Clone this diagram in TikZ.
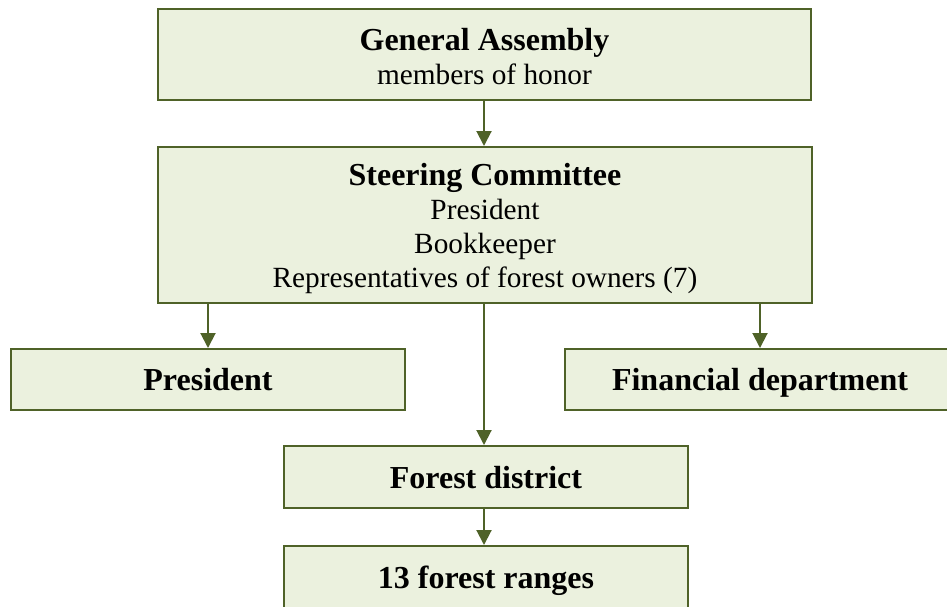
\documentclass[tikz,border=0pt]{standalone}
\usepackage{fontspec}
\setmainfont{Liberation Serif}
\usetikzlibrary{arrows.meta}
\definecolor{boxline}{HTML}{4F6228}
\definecolor{boxfill}{HTML}{EBF1DE}
\tikzset{
  orgbox/.style={draw=boxline, fill=boxfill, line width=2pt, inner sep=0pt,
    align=center, font=\fontsize{29.3}{34}\selectfont},
  onebox/.style={orgbox, text height=22pt, text depth=0pt},
  arr/.style={draw=boxline, line width=2pt,
    -{Triangle[length=15pt,width=15pt]}},
}
\newcommand{\hd}[1]{{\fontsize{32}{34}\selectfont\bfseries #1}}
\begin{document}
\begin{tikzpicture}[x=1pt,y=-1pt]
  \useasboundingbox (0,0) rectangle (947,606);
  \node[orgbox, minimum width=653pt, minimum height=91pt] (ga) at (484.5,54.5)
    {\rule{0pt}{27pt}\hd{General Assembly}\\members of honor};
  \node[orgbox, minimum width=654pt, minimum height=156pt] (sc) at (485,225)
    {\rule{0pt}{30pt}\hd{Steering Committee}\\President\\Bookkeeper\\Representatives of forest owners (7)};
  \node[onebox, minimum width=394pt, minimum height=61pt] (pres) at (208,379.5)
    {\hd{President}};
  \node[onebox, minimum width=390pt, minimum height=61pt] (fin) at (760,379.5)
    {\hd{Financial department}};
  \node[onebox, minimum width=404pt, minimum height=62pt] (fd) at (486,477)
    {\hd{Forest district}};
  \node[onebox, minimum width=404pt, minimum height=62pt] (fr) at (486,577)
    {\hd{13 forest ranges}};
  \draw[arr] (ga.south -| 484,0) -- (sc.north -| 484,0);
  \draw[arr] (sc.south -| pres.north) -- (pres.north);
  \draw[arr] (sc.south -| fin.north) -- (fin.north);
  \draw[arr] (sc.south -| 484,0) -- (fd.north -| 484,0);
  \draw[arr] (fd.south -| 484,0) -- (fr.north -| 484,0);
\end{tikzpicture}
\end{document}
